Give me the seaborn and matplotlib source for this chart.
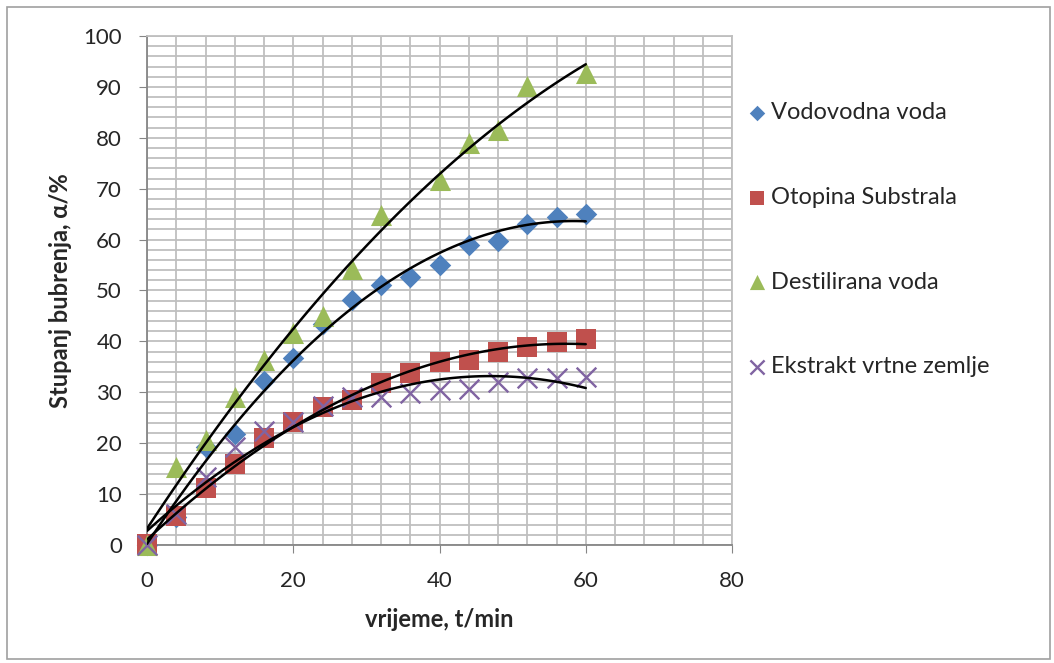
import numpy as np
import pandas as pd
import matplotlib.pyplot as plt
import seaborn as sns
from matplotlib.patches import Rectangle
from matplotlib.ticker import MultipleLocator

# vrijeme, t/min
vrijeme = [0, 4, 8, 12, 16, 20, 24, 28, 32, 36, 40, 44, 48, 52, 56, 60]

# stupanj bubrenja, alfa/% (ocitano sa slike)
vodovodna = [0, 5.5, 19.3, 21.9, 32.3, 36.8, 43.5, 48.2, 51.0, 52.7, 55.1, 58.9, 59.7, 63.0, 64.5, 65.1]
substral = [0.2, 5.6, 11.1, 16.0, 21.0, 24.2, 27.2, 28.5, 31.9, 33.7, 35.9, 36.3, 37.9, 38.8, 39.9, 40.5]
destilirana = [0, 15.4, 20.6, 29.1, 36.3, 41.6, 44.9, 54.2, 64.8, np.nan, 71.7, 78.9, 81.5, 90.2, np.nan, 92.7]
ekstrakt = [0, 6.0, 13.4, 19.3, 22.3, 24.2, 27.3, 29.0, 29.1, 29.8, 30.4, 30.6, 32.1, 32.9, 32.9, 33.1]

serije = ['Vodovodna voda', 'Otopina Substrala', 'Destilirana voda', 'Ekstrakt vrtne zemlje']
vrijednosti = [vodovodna, substral, destilirana, ekstrakt]
boje = ['#4F81BD', '#C0504D', '#9BBB59', '#8064A2']
markeri = ['D', 's', '^', 'x']
velicine = [120, 200, 230, 200]

sns.set_style('white')
plt.rcParams['font.family'] = ['Lato', 'DejaVu Sans']

fig = plt.figure(figsize=(10.54, 6.63), dpi=100)
ax = fig.add_axes([0.1395, 0.178, 0.555, 0.7677])

for ime, vals, c, m, sz in zip(serije, vrijednosti, boje, markeri, velicine):
    sub = pd.DataFrame({'t': vrijeme, 'alfa': vals}).dropna()
    lw = 1.7 if m == 'x' else 0
    sns.scatterplot(data=sub, x='t', y='alfa', marker=m, color=c, s=sz,
                    linewidth=lw, ax=ax, zorder=3, label=ime, clip_on=False)

# polinomni trend 2. reda
for vals in vrijednosti:
    sub = pd.DataFrame({'t': vrijeme, 'alfa': vals}).dropna()
    sns.regplot(data=sub, x='t', y='alfa', order=2, ci=None, scatter=False,
                truncate=True, ax=ax, line_kws={'color': 'black', 'lw': 1.8, 'zorder': 4})

ax.set_xlim(0, 80)
ax.set_ylim(0, 100)
ax.xaxis.set_major_locator(MultipleLocator(20))
ax.xaxis.set_minor_locator(MultipleLocator(4))
ax.yaxis.set_major_locator(MultipleLocator(10))
ax.yaxis.set_minor_locator(MultipleLocator(2))
ax.grid(which='both', color='#BFBFBF', lw=1.3, zorder=0)
ax.set_axisbelow(True)
ax.tick_params(which='major', length=6, color='#868686', direction='out',
               labelsize=16, bottom=True, left=True)
ax.tick_params(axis='x', which='major', pad=13)
ax.tick_params(axis='y', which='major', pad=12)
ax.tick_params(which='minor', length=0)
for sp in ['top', 'right']:
    ax.spines[sp].set_color('#BFBFBF')
    ax.spines[sp].set_linewidth(1.3)
for sp in ['left', 'bottom']:
    ax.spines[sp].set_color('#868686')
    ax.spines[sp].set_linewidth(1.3)

ax.set_xlabel('vrijeme, t/min', fontsize=17, fontweight='bold', labelpad=12)
ax.set_ylabel('Stupanj bubrenja, α/%', fontsize=17, fontweight='bold', labelpad=8)

ax.legend(loc='upper left', bbox_to_anchor=(0.99, 0.912), frameon=False,
          fontsize=17, labelspacing=2.7, handletextpad=0.2,
          handlelength=0.8, markerscale=0.72)

fig.patches.append(Rectangle((0.0066, 0.006), 0.9894, 0.983, transform=fig.transFigure,
                             fill=False, edgecolor='#A0A0A0', lw=1.2))

fig.savefig('out.png', dpi=100)
